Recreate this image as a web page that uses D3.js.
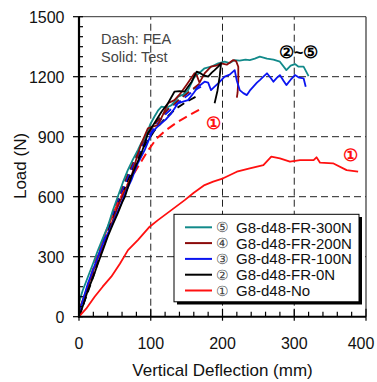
<!DOCTYPE html>
<html><head><meta charset="utf-8">
<script src="https://cdn.jsdelivr.net/npm/d3@7"></script>
<style>
html,body{margin:0;padding:0;background:#fff;}
svg{display:block;}
text{font-family:"Liberation Sans",Arial,sans-serif;}
</style></head>
<body><svg id="c" width="377" height="382"></svg>
<script>
// ---- data ----
const xTicks = [0, 100, 200, 300, 400];
const yTicks = [0, 300, 600, 900, 1200, 1500];
const seriesNames = ["G8-d48-FR-300N", "G8-d48-FR-200N", "G8-d48-FR-100N", "G8-d48-FR-0N", "G8-d48-No"];
const seriesMarks = ["⑤", "④", "③", "②", "①"];
const seriesColors = ["#128a8a", "#8b0a0a", "#0a14f0", "#000000", "#ff1010"];

// Test (solid) curves: [deflection mm, load N]
const test300N = [[0,70],[5,130],[12.5,200],[20,270],[26.5,333],[33,390],[40,450],[47,530],[54,600],[61,670],[68,733],[75,785],[82,833],[87,870],[92,892],[99,960],[105,1000],[110,1030],[115,1050],[122,1045],[129,1058],[134,1080],[138,1100],[145,1110],[152,1133],[157,1170],[161,1200],[168,1220],[175,1242],[184,1250],[194,1267],[203,1275],[210,1268],[217,1283],[224,1280],[232,1285],[238,1283],[245,1290],[252,1300],[262,1290],[271,1285],[280,1275],[289,1233],[295,1255],[301,1263],[306,1250],[313,1250],[320,1203]];
const test200N = [[0,33],[8,110],[17,200],[26,290],[36,367],[45,460],[54,550],[63,620],[73,700],[80,790],[87,867],[96,942],[103,950],[110,958],[117,1010],[124,1067],[133,1083],[140,1110],[150,1160],[161,1217],[164,1208],[168,1170],[175,1217],[184,1250],[191,1255],[198,1267],[206,1260],[215,1283],[219,1278],[222,1250],[222,1180],[221,1120],[220,1095]];
const test100N = [[0,17],[6,90],[12.5,167],[20,240],[26.5,300],[35,380],[45,450],[52,510],[59,567],[66,630],[73,683],[82,767],[91.5,833],[101,917],[108,945],[114.7,967],[122,990],[128.7,1017],[138,1067],[145,1075],[152,1083],[160,1120],[166,1150],[175,1175],[180,1170],[184,1133],[189,1150],[194,1167],[203,1200],[210,1210],[217,1233],[220,1180],[224,1133],[229,1118],[234,1108],[238,1130],[243,1150],[248,1170],[252,1183],[257,1200],[262,1217],[267,1195],[271,1175],[276,1195],[280,1208],[285,1180],[289,1158],[295,1185],[301,1208],[307,1195],[313,1192],[316,1150]];
const test0N = [[0,0],[6,60],[12.5,133],[20,200],[26.5,267],[33,330],[40,400],[47,460],[54,517],[60,570],[64,600],[73,700],[80,760],[87,817],[92,870],[96,917],[105,967],[115,1025],[124,1067],[133,1125],[140,1128],[147,1125],[152,1150],[157,1175],[164,1225],[168,1220],[173,1208],[180,1200],[185,1220],[189,1233],[194,1250],[198,1267],[196,1200],[193,1130],[189,1067]];
const testNo = [[0,0],[10,40],[21.8,100],[33,150],[45,200],[57,265],[68.3,333],[82,383],[98.5,450],[110,483],[128.7,533],[147.3,583],[160,620],[175,658],[187,675],[201,692],[220,725],[238,742],[257,758],[268,800],[280,792],[294,775],[308,783],[327,783],[331,797],[336,770],[354,767],[373,733],[389,725]];

// FEA (dashed) curves
const fea300N = [[0,0],[15,170],[30,340],[45,500],[60,645],[75,770],[90,880],[105,965],[125,1045],[145,1105],[165,1150]];
const fea200N = [[0,0],[15,165],[30,335],[45,495],[60,640],[75,765],[90,875],[105,960],[125,1040],[145,1100],[168,1165]];
const fea100N = [[0,0],[15,160],[30,325],[45,485],[60,625],[75,750],[90,860],[105,945],[120,1010],[140,1075],[160,1130],[170,1150]];
const fea0N = [[0,0],[15,150],[30,310],[45,470],[60,610],[75,735],[90,845],[105,930],[120,990],[135,1040],[150,1075],[168,1110]];
const feaNo = [[0,0],[12,150],[24,290],[36,410],[48,520],[60,610],[72,690],[84,760],[96,830],[108,890],[120,930],[138,975],[155,1010],[170,1040]];

const testSeries = [test300N, test200N, test100N, test0N, testNo];
const feaSeries = [fea300N, fea200N, fea100N, fea0N, feaNo];

// ---- chart ----
const svg = d3.select("#c");
const X0 = 79, X1 = 366, Y0 = 316.7, Y1 = 16.7;
const x = d3.scaleLinear().domain([0,400]).range([X0,X1]);
const y = d3.scaleLinear().domain([0,1500]).range([Y0,Y1]);

// grid
const grid = svg.append("g").attr("stroke","#222").attr("stroke-width",1).attr("stroke-dasharray","7,4");
[100,200,300].forEach(v=>grid.append("line").attr("x1",x(v)).attr("x2",x(v)).attr("y1",Y0).attr("y2",Y1));
[300,600,900,1200].forEach(v=>grid.append("line").attr("x1",X0).attr("x2",X1).attr("y1",y(v)).attr("y2",y(v)));

// frame top/right
svg.append("line").attr("x1",X0).attr("x2",X1).attr("y1",Y1).attr("y2",Y1).attr("stroke","#333").attr("stroke-width",1);
svg.append("line").attr("x1",X1).attr("x2",X1).attr("y1",Y1).attr("y2",Y0).attr("stroke","#333").attr("stroke-width",1.2);

// lines
const line = d3.line().x(d=>x(d[0])).y(d=>y(d[1]));
const plot = svg.append("g");
feaSeries.forEach((s,i)=>{
  plot.append("path").attr("d",line(s)).attr("fill","none")
    .attr("stroke",seriesColors[i]).attr("stroke-width",i===4?2:1.8)
    .attr("stroke-dasharray",i===4?"9,5":"8,5");
});
testSeries.forEach((s,i)=>{
  plot.append("path").attr("d",line(s)).attr("fill","none")
    .attr("stroke",seriesColors[i]).attr("stroke-width",1.8).attr("stroke-linejoin","round");
});

// axes
const xMinor = d3.range(0,401,20);
const yMinor = d3.range(0,1501,50);
const ax = svg.append("g").attr("stroke","#000");
xMinor.forEach(v=>{
  const major = v%100===0;
  ax.append("line").attr("x1",x(v)).attr("x2",x(v)).attr("y1",major?Y0+4:Y0).attr("y2",major?Y0-8:Y0-5).attr("stroke-width",1.2);
});
yMinor.forEach(v=>{
  const major = v%300===0;
  ax.append("line").attr("y1",y(v)).attr("y2",y(v)).attr("x1",major?X0-6:X0).attr("x2",major?X0+4:X0+4).attr("stroke-width",1.2);
});
ax.append("line").attr("x1",X0).attr("x2",X0).attr("y1",Y1).attr("y2",Y0+1).attr("stroke-width",2.2);
ax.append("line").attr("x1",X0-1).attr("x2",X1).attr("y1",Y0).attr("y2",Y0).attr("stroke-width",2);

// tick labels
svg.append("g").selectAll("text").data(xTicks).join("text")
  .attr("x",d=>d===400?x(d)-5:x(d)).attr("y",349).attr("text-anchor","middle")
  .attr("font-size",16).attr("fill","#111").text(d=>d);
svg.append("g").selectAll("text").data(yTicks).join("text")
  .attr("x",64.5).attr("y",d=>y(d)+5.8).attr("text-anchor","end")
  .attr("font-size",16).attr("fill","#111").text(d=>d);

// axis titles
svg.append("text").attr("x",222.5).attr("y",376).attr("text-anchor","middle")
  .attr("font-size",17).attr("fill","#111").text("Vertical Deflection (mm)");
svg.append("text").attr("transform","translate(25.5,166) rotate(-90)").attr("text-anchor","middle")
  .attr("font-size",17).attr("fill","#111").text("Load (N)");

// annotations
const cjk = "'Noto Sans CJK JP','DejaVu Sans',sans-serif";
svg.append("text").attr("x",101).attr("y",43.5).attr("font-size",14.5).attr("fill","#444").text("Dash: FEA");
svg.append("text").attr("x",101).attr("y",61.5).attr("font-size",14.5).attr("fill","#444").text("Solid: Test");
const ann = svg.append("text").attr("x",279).attr("y",58).attr("font-size",17).attr("font-weight","bold")
  .attr("font-family",cjk).attr("fill","#000");
ann.append("tspan").text("②");
ann.append("tspan").attr("font-family","'Liberation Sans',Arial,sans-serif").attr("font-size",16).text("~");
ann.append("tspan").text("⑤");
svg.append("text").attr("x",x(187)).attr("y",y(968)+6).attr("text-anchor","middle").attr("font-size",17).attr("font-weight","bold")
  .attr("font-family",cjk).attr("fill","#ff1010").text("①");
svg.append("text").attr("x",x(378)).attr("y",y(808)+6).attr("text-anchor","middle").attr("font-size",17).attr("font-weight","bold")
  .attr("font-family",cjk).attr("fill","#ff1010").text("①");

// legend
const lg = svg.append("g");
lg.append("rect").attr("x",177).attr("y",217).attr("width",185).attr("height",87.5).attr("fill","#000");
lg.append("rect").attr("x",174).attr("y",214.3).attr("width",185).attr("height",87.5).attr("fill","#fff").attr("stroke","#000").attr("stroke-width",1);
seriesNames.forEach((n,i)=>{
  const cy = 227.3 + i*15.8;
  lg.append("line").attr("x1",185).attr("x2",212).attr("y1",cy).attr("y2",cy).attr("stroke",seriesColors[i]).attr("stroke-width",2);
  lg.append("text").attr("x",222.7).attr("y",cy+5).attr("text-anchor","middle").attr("font-size",14)
    .attr("font-family",cjk).attr("fill","#444").text(seriesMarks[i]);
  lg.append("text").attr("x",236).attr("y",cy+5.5).attr("font-size",15).attr("fill","#111").text(n);
});
</script>
</body></html>
